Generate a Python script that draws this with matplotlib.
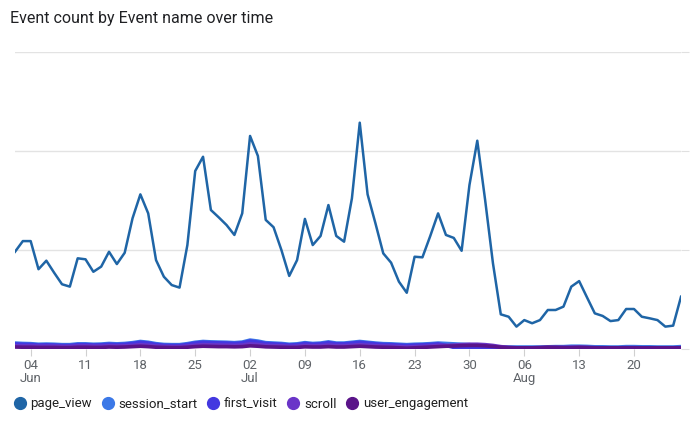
import numpy as np
import pandas as pd
import matplotlib
matplotlib.use("Agg")
import matplotlib.pyplot as plt

plt.rcParams["font.family"] = ["Roboto", "DejaVu Sans"]

# daily dates, 2 Jun - 26 Aug
dates = pd.date_range("2023-06-02", "2023-08-26", freq="D")

page_view = [491, 545, 545, 403, 446, 385, 327, 315, 458, 453,
             390, 416, 491, 429, 486, 660, 781, 685, 449, 365,
             323, 310, 525, 899, 971, 702, 665, 626, 576, 685,
             1076, 975, 652, 615, 500, 369, 449, 657, 525, 571,
             727, 571, 542, 761, 1143, 781, 635, 483, 436, 340,
             284, 466, 463, 571, 685, 576, 561, 496, 828, 1052,
             753, 433, 175, 163, 113, 146, 130, 146, 197, 197,
             214, 315, 343, 261, 180, 167, 141, 146, 202, 202,
             163, 155, 146, 113, 118, 264]

session_start = [30, 28, 27, 24, 25, 24, 22, 22, 26, 26,
                 24, 25, 28, 26, 28, 32, 38, 34, 27, 23,
                 22, 22, 27, 34, 38, 36, 35, 34, 32, 35,
                 45, 40, 32, 30, 28, 24, 26, 32, 28, 30,
                 36, 30, 30, 34, 38, 34, 30, 27, 26, 24,
                 22, 24, 25, 27, 30, 28, 26, 24, 22, 18,
                 14, 12, 10, 10, 10, 10, 10, 10, 11, 12,
                 12, 14, 14, 13, 11, 11, 10, 10, 12, 12,
                 11, 11, 10, 10, 10, 12]

first_visit = [26, 24, 23, 20, 21, 20, 18, 18, 22, 22,
               20, 21, 24, 22, 24, 28, 34, 30, 23, 19,
               18, 18, 23, 30, 34, 32, 31, 30, 28, 31,
               40, 35, 28, 26, 24, 20, 22, 28, 24, 26,
               32, 26, 26, 30, 34, 30, 26, 23, 22, 20,
               18, 20, 21, 23, 26, 18, 8, 4, 4, 6,
               4, 3, 3, 3, 3, 3, 3, 4, 5, 6,
               7, 8, 8, 7, 5, 5, 4, 4, 6, 6,
               5, 5, 4, 4, 4, 6]

scroll = [16, 15, 15, 14, 14, 14, 13, 13, 15, 15,
          14, 14, 16, 15, 16, 18, 22, 19, 15, 13,
          12, 12, 15, 19, 22, 21, 20, 19, 18, 20,
          26, 23, 18, 17, 16, 13, 14, 18, 16, 17,
          20, 17, 17, 19, 22, 19, 17, 15, 14, 12,
          10, 12, 13, 15, 18, 18, 20, 22, 24, 24,
          22, 18, 12, 8, 6, 6, 6, 7, 8, 9,
          8, 8, 9, 8, 7, 6, 6, 6, 7, 7,
          6, 6, 6, 6, 6, 7]

user_engagement = [10, 9, 9, 8, 8, 8, 7, 7, 9, 9,
                   8, 8, 10, 9, 10, 12, 14, 12, 9, 8,
                   7, 7, 9, 12, 14, 13, 12, 12, 11, 12,
                   16, 14, 11, 10, 9, 8, 8, 11, 10, 10,
                   12, 10, 10, 12, 14, 12, 10, 9, 8, 6,
                   4, 6, 8, 10, 12, 14, 15, 17, 18, 18,
                   16, 13, 9, 7, 6, 6, 6, 7, 9, 8,
                   7, 7, 8, 7, 6, 6, 6, 6, 6, 6,
                   6, 6, 6, 6, 6, 6]

series = ["page_view", "session_start", "first_visit", "scroll", "user_engagement"]
values = [page_view, session_start, first_visit, scroll, user_engagement]
colors = ["#1f65a6", "#3b78e7", "#4338e0", "#6a35c8", "#5a1489"]
widths = [1.8, 2.6, 2.6, 2.6, 2.6]

yticks = [0, 500, 1000, 1500]

fig = plt.figure(figsize=(6.9, 4.28), dpi=100)
ax = fig.add_axes([15 / 690, 79 / 428, 666 / 690, 297 / 428])

for name, vals, c, lw in zip(series, values, colors, widths):
    ax.plot(dates, vals, color=c, linewidth=lw, label=name, solid_joinstyle="round")

ax.set_xlim(dates[0], dates[-1])
ax.set_ylim(0, 1500)
ax.set_yticks(yticks)
ax.yaxis.tick_right()
ax.tick_params(axis="y", length=6, color="#e0e0e0", labelright=False)
ax.grid(axis="y", color="#e3e3e3", linewidth=1)
ax.set_axisbelow(True)
for s in ax.spines.values():
    s.set_visible(False)

# weekly ticks, month under the first tick of each month
ticks = pd.date_range("2023-06-04", "2023-08-20", freq="7D")
labels = []
prev = None
for t in ticks:
    if t.month != prev:
        labels.append(t.strftime("%d\n%b"))
        prev = t.month
    else:
        labels.append(t.strftime("%d"))
ax.set_xticks(ticks)
ax.set_xticklabels(labels, fontsize=9.5, color="#5f6368", linespacing=1.0)
ax.tick_params(axis="x", length=5, color="#d0d0d0", pad=2)

fig.text(10 / 690, 1 - 18 / 428, "Event count by Event name over time",
         fontsize=11.5, color="#202124", va="center", ha="left")

handles = [plt.Line2D([], [], marker="o", linestyle="none", markersize=8.5,
                      color=c) for c in colors]
fig.legend(handles, series, loc="center left", bbox_to_anchor=(0 / 690, 24 / 428),
           ncol=5, frameon=False, fontsize=9.5, handletextpad=0.2,
           columnspacing=0.6, handlelength=1.2, labelcolor="#212121")

plt.savefig("out.png", dpi=100)
